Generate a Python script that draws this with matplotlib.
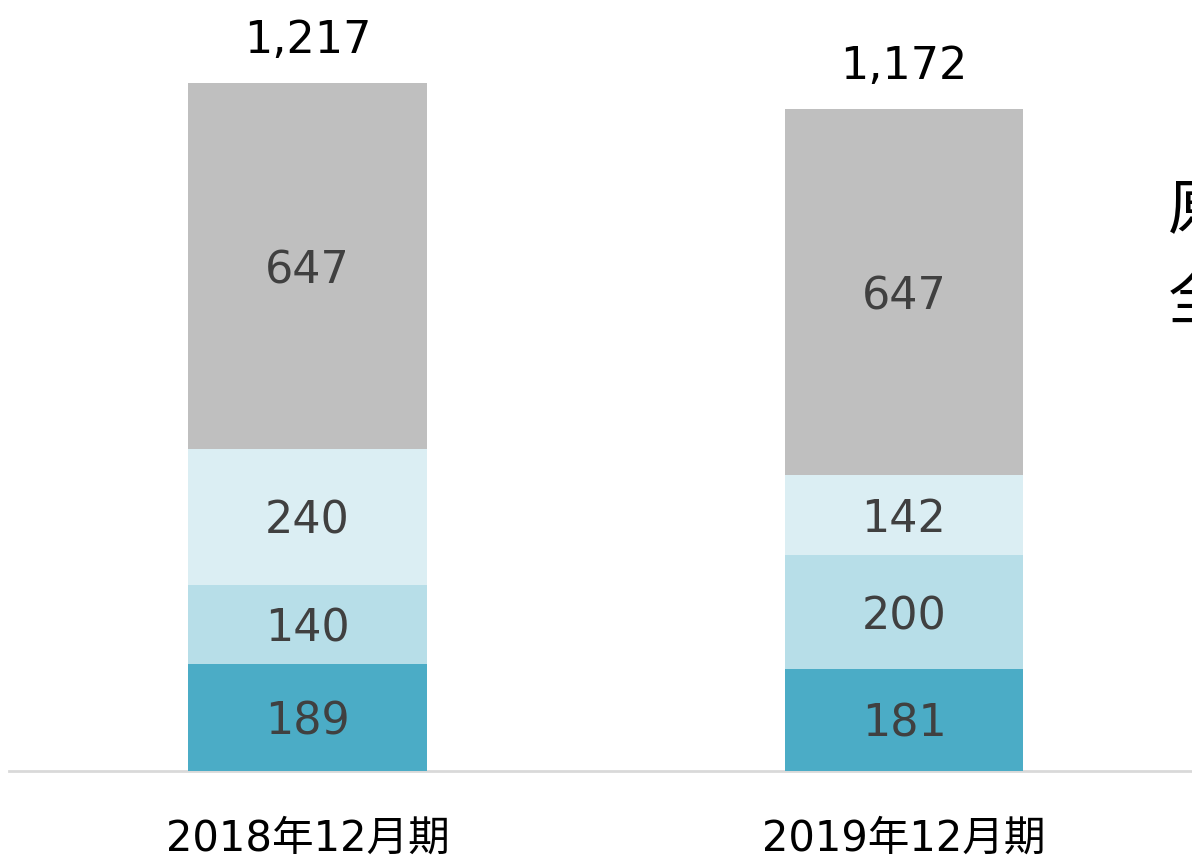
import matplotlib
matplotlib.use("Agg")
import matplotlib.pyplot as plt

plt.rcParams['font.family'] = ['DejaVu Sans', 'Noto Sans CJK JP']

# Data
periods = ['2018年12月期', '2019年12月期']
seg1 = [189, 181]
seg2 = [140, 200]
seg3 = [240, 142]
seg4 = [647, 647]
totals = ['1,217', '1,172']
colors = ['#4BACC6', '#B7DEE8', '#DBEEF3', '#BFBFBF']


def main():
    fig = plt.figure(figsize=(11.92, 8.59), dpi=100)
    ax = fig.add_axes([0, 0, 1, 1])
    ax.set_xlim(-0.5155, 1.4828)
    ax.set_ylim(-155.5, 1362.7)
    ax.axis('off')

    x = list(range(len(periods)))
    bottom = [0] * len(periods)
    for vals, c in zip([seg1, seg2, seg3, seg4], colors):
        ax.bar(x, vals, width=0.4, bottom=bottom, color=c, zorder=2)
        for i, v in enumerate(vals):
            ax.text(x[i], bottom[i] + v / 2, str(v), ha='center', va='center_baseline',
                    fontsize=32, color='#404040', zorder=3)
        bottom = [b + v for b, v in zip(bottom, vals)]

    for i, t in enumerate(totals):
        ax.text(x[i], bottom[i] + 83, t, ha='center', va='center_baseline',
                fontsize=32, color='black')
        ax.text(x[i], -119, periods[i], ha='center', va='center',
                fontsize=30, color='black')

    # baseline
    ax.plot([-0.5, 1.5], [0, 0], color='#D9D9D9', lw=2, zorder=1)

    # text box on the right, cut off by the figure edge as in the original slide
    fig.text(1168 / 1192, 1 - 212 / 859, '原', fontsize=44, ha='left', va='center',
             family=['Noto Sans CJK JP'])
    fig.text(1168 / 1192, 1 - 302 / 859, '全', fontsize=44, ha='left', va='center',
             family=['Noto Sans CJK JP'])

    fig.savefig('out.png', dpi=100)


if __name__ == '__main__':
    main()
